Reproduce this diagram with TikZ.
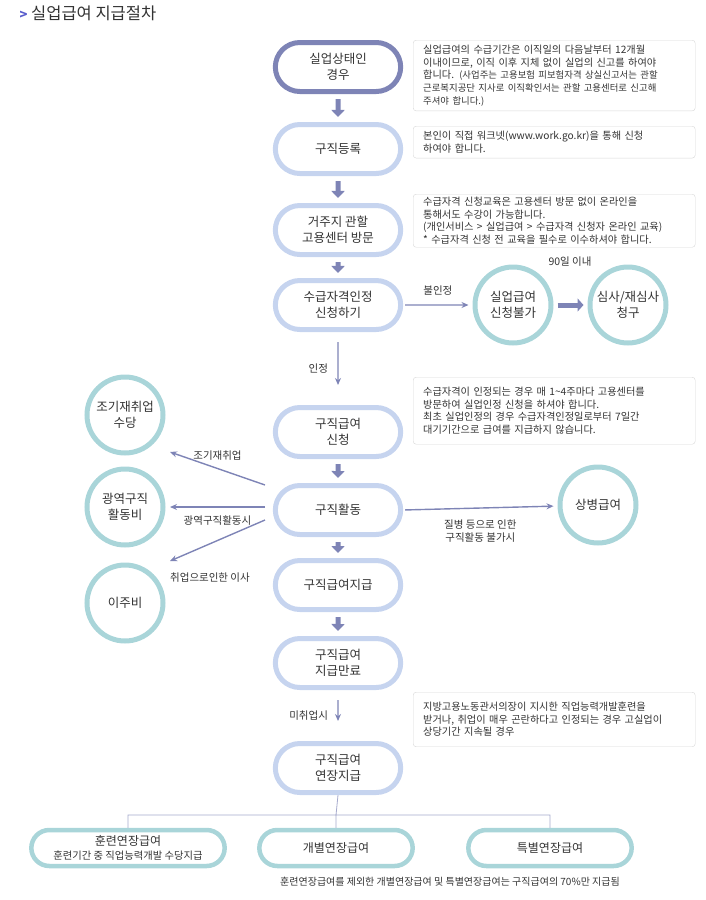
\documentclass[tikz,border=0pt]{standalone}
\usepackage{fontspec}
\setmainfont{Noto Sans CJK KR}
\usetikzlibrary{arrows.meta,shapes.misc}
\definecolor{navy}{HTML}{7E84B6}
\definecolor{lblue}{HTML}{C6D4EF}
\definecolor{teal}{HTML}{A9D5D9}
\definecolor{txt}{HTML}{333333}
\definecolor{boxgray}{HTML}{D6D6D6}
\begin{document}
\begin{tikzpicture}[x=1pt,y=-1pt,
 flow/.style={rounded rectangle,draw=lblue,line width=5pt,fill=white,minimum width=132pt,minimum height=49pt,align=center,font=\fontsize{12.5}{16}\selectfont,text=txt},
 circ/.style={circle,draw=teal,line width=5pt,fill=white,minimum size=76pt,inner sep=0pt,align=center,font=\fontsize{12.5}{16}\selectfont,text=txt},
 info/.style={draw=boxgray,rounded corners=3pt,text width=262pt,align=left,inner xsep=10pt,inner ysep=5pt,font=\fontsize{10.2}{12.6}\selectfont,text=txt},
 bigarr/.style={-{Triangle[width=13pt,length=7pt]},line width=5pt,draw=navy,shorten >=5pt,shorten <=5pt},
 thin/.style={-{Stealth[length=7pt,width=6pt]},line width=1.4pt,draw=navy},
 lbl/.style={font=\fontsize{10.5}{13}\selectfont,text=txt,align=center},
 bot/.style={rounded rectangle,draw=teal,line width=4.5pt,fill=white,minimum height=36pt,align=center,font=\fontsize{12}{14}\selectfont,text=txt}]
\useasboundingbox (0,0) rectangle (705,900);
\node[anchor=west,font=\fontsize{16.5}{18}\selectfont,text=txt] (title) at (16,13) {\textcolor{navy!70!blue}{\fontsize{13}{13}\selectfont\textbf{>}}\ 실업급여 지급절차};
\node[flow,draw=navy] (n1) at (338,67) {실업상태인\\경우};
\node[flow] (n2) at (338,149) {구직등록};
\node[flow] (n3) at (338,230) {거주지 관할\\고용센터 방문};
\node[flow] (n4) at (338,305) {수급자격인정\\신청하기};
\node[flow] (n5) at (338,432) {구직급여\\신청};
\node[flow] (n6) at (338,510) {구직활동};
\node[flow] (n7) at (338,585) {구직급여지급};
\node[flow] (n8) at (338,663) {구직급여\\지급만료};
\node[flow] (n9) at (338,768) {구직급여\\연장지급};
\draw[bigarr] (n1) -- (n2);
\draw[bigarr] (n2) -- (n3);
\draw[bigarr] (n3) -- (n4);
\draw[bigarr] (n5) -- (n6);
\draw[bigarr] (n6) -- (n7);
\draw[bigarr] (n7) -- (n8);
\draw[thin,shorten >=20pt,shorten <=10pt] (n4) -- node[lbl,left=6pt]{인정} (n5);
\draw[thin,shorten >=20pt,shorten <=10pt] (n8) -- node[lbl,left=6pt]{미취업시} (n9);
% info boxes
\node[info,anchor=north west] (b1) at (413,40) {실업급여의 수급기간은 이직일의 다음날부터 12개월\\이내이므로, 이직 이후 지체 없이 실업의 신고를 하여야\\합니다. {\fontsize{9.4}{12.6}\selectfont (사업주는 고용보험 피보험자격 상실신고서는 관할\\근로복지공단 지사로 이직확인서는 관할 고용센터로 신고해\\주셔야 합니다.)}};
\node[info,anchor=north west] (b2) at (413,126) {본인이 직접 워크넷(www.work.go.kr)을 통해 신청\\하여야 합니다.};
\node[info,anchor=north west,inner ysep=3pt] (b3) at (413,194) {수급자격 신청교육은 고용센터 방문 없이 온라인을\\통해서도 수강이 가능합니다.\\(개인서비스 > 실업급여 > 수급자격 신청자 온라인 교육)\\{}* 수급자격 신청 전 교육을 필수로 이수하셔야 합니다.};
\node[info,anchor=north west,inner ysep=10pt] (b4) at (413,377) {수급자격이 인정되는 경우 매 1\textasciitilde 4주마다 고용센터를\\방문하여 실업인정 신청을 하셔야 합니다.\\최초 실업인정의 경우 수급자격인정일로부터 7일간\\대기기간으로 급여를 지급하지 않습니다.};
\node[info,anchor=north west,inner ysep=10pt] (b5) at (413,692) {지방고용노동관서의장이 지시한 직업능력개발훈련을\\받거나, 취업이 매우 곤란하다고 인정되는 경우 고실업이\\상당기간 지속될 경우\\[-2pt]};
% right circles
\node[circ] (c1) at (513,305) {실업급여\\신청불가};
\node[circ] (c2) at (628,305) {심사/재심사\\청구};
\node[lbl] (l90) at (570,262) {90일 이내};
\draw[thin,shorten <=2pt,shorten >=4pt] (n4) -- node[lbl,above=6pt]{불인정} (c1);
\draw[bigarr,-{Triangle[width=13pt,length=6pt]},shorten <=4pt,shorten >=4pt] (c1) -- (c2);
\node[circ] (c3) at (598,505) {상병급여};
\draw[thin,shorten <=2pt,shorten >=4pt] (n6.east) -- node[lbl,below=8pt]{질병 등으로 인한\\구직활동 불가시} (c3);
% left circles
\node[circ] (c4) at (125,415) {조기재취업\\수당};
\node[circ] (c5) at (125,507) {광역구직\\활동비};
\node[circ] (c6) at (125,603) {이주비};
\coordinate (s1) at (265,485);
\coordinate (s2) at (265,507);
\coordinate (s3) at (265,520);
\draw[thin] (s1) -- node[lbl,above=4pt,pos=0.5]{조기재취업} (170,452);
\draw[thin] (s2) -- node[lbl,below=5pt,pos=0.5]{광역구직활동시} (170,507);
\draw[thin] (s3) -- (170,561);
\node[lbl] (l3) at (210,578) {취업으로인한 이사};
% bottom
\node[bot,minimum width=200pt] (d1) at (128,848) {훈련연장급여\\{\fontsize{10.3}{12}\selectfont 훈련기간 중 직업능력개발 수당지급}};
\node[bot,minimum width=160pt] (d2) at (336,848) {개별연장급여};
\node[bot,minimum width=170pt] (d3) at (550,848) {특별연장급여};
\coordinate (j) at (336,815);
\draw[line width=0.8pt,draw=navy!70] (n9.south) -- (j) (d1.north) |- (j) (d2.north) -- (j) (d3.north) |- (j);
\node[lbl,font=\fontsize{10}{12}\selectfont] (foot) at (450,882) {훈련연장급여를 제외한 개별연장급여 및 특별연장급여는 구직급여의 70\%만 지급됨};
\end{tikzpicture}
\end{document}
